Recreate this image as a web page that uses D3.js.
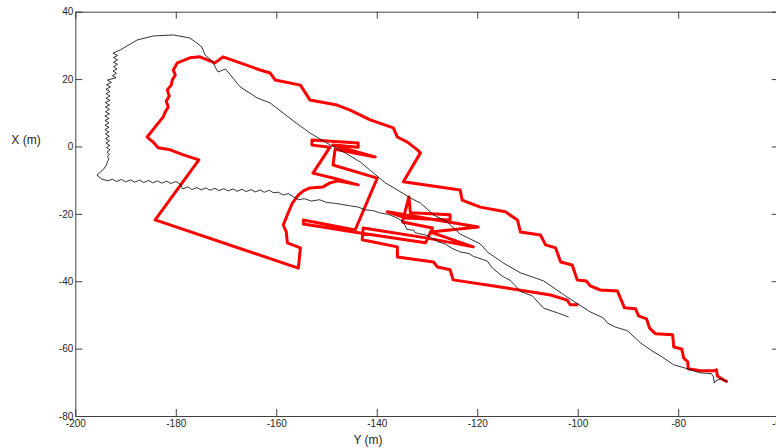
<!DOCTYPE html>
<html>
<head>
<meta charset="utf-8">
<script src="https://cdn.jsdelivr.net/npm/d3@7"></script>
<style>
  body { margin: 0; background: #fff; }
  text { font-family: "Liberation Sans", Arial, sans-serif; }
</style>
</head>
<body>
<script>
var w = 776;
var h = 448;

var xTicks = [-200, -180, -160, -140, -120, -100, -80, -60];
var yTicks = [-80, -60, -40, -20, 0, 20, 40];
var xLabel = "Y (m)";
var yLabel = "X (m)";

// reference track (thin black), [Y, X] in metres
var blackTrack = [
  [-70.2,-69.9],[-71.6,-69.0],[-72.6,-69.6],[-72.8,-70.2],[-73.0,-68.4],[-73.4,-67.4],[-75.6,-67.2],
  [-78.1,-66.0],[-80.9,-64.8],[-83.5,-62.2],[-85.5,-60.4],[-87.5,-58.3],[-90.1,-54.7],[-92.5,-53.6],
  [-94.1,-52.4],[-94.9,-50.9],[-97.5,-49.1],[-102.1,-44.7],[-106.8,-39.9],[-111.4,-37.5],[-114.8,-34.6],
  [-118.0,-31.3],[-119.4,-28.9],[-123.4,-26.0],[-126.0,-22.4],[-128.7,-20.3],[-131.3,-16.8],[-133.3,-15.3],
  [-135.9,-12.9],[-138.3,-10.8],[-143.3,-4.6],[-146.3,-1.9],[-149.9,1.0],[-153.3,4.0],[-156.6,7.6],
  [-161.2,12.9],[-163.8,14.4],[-167.2,17.7],[-170.1,23.0],[-171.6,22.1],[-172.8,25.4],[-174.2,27.2],
  [-174.8,29.5],[-175.8,30.7],[-177.2,32.2],[-180.5,33.1],[-184.5,32.8],[-187.7,31.6],[-191.1,28.6],
  [-192.5,27.7],
  [-191.6,27.0],[-192.4,26.4],[-191.6,25.7],[-192.4,25.0],[-191.6,24.4],[-192.4,23.7],[-191.7,23.0],
  [-192.5,22.4],[-191.8,21.7],[-192.6,21.0],[-191.9,20.4],[-193.6,19.7],[-192.8,19.0],[-193.8,18.3],
  [-193.0,17.7],[-193.9,17.0],[-193.1,16.3],[-193.9,15.7],[-193.1,15.0],[-193.9,14.3],[-193.1,13.7],
  [-194.0,13.0],[-193.2,12.3],[-194.0,11.7],[-193.2,11.0],[-194.0,10.3],[-193.2,9.7],[-194.1,9.0],
  [-193.3,8.3],[-194.1,7.7],[-193.3,7.0],[-194.1,6.3],[-193.3,5.7],[-194.1,5.0],[-193.3,4.3],
  [-194.0,3.7],[-193.2,3.0],[-194.0,2.3],[-193.2,1.7],[-193.9,1.0],[-193.1,0.3],[-193.8,-0.3],
  [-193.1,-1.0],[-193.7,-1.7],[-193.2,-2.3],[-193.6,-3.0],[-193.3,-3.7],[-193.6,-4.5],[-193.8,-5.5],
  [-194.4,-6.8],[-195.7,-8.5],
  [-194.7,-9.7],[-193.5,-10.2],[-192.6,-9.7],[-191.8,-10.4],[-190.8,-9.8],[-190.0,-10.5],[-189.0,-9.9],
  [-188.2,-10.6],[-187.2,-10.0],[-186.4,-10.7],[-185.4,-10.1],[-184.6,-10.8],[-183.6,-10.2],[-182.8,-10.9],
  [-181.8,-10.3],[-181.0,-11.0],[-180.0,-10.4],[-179.2,-11.1],[-178.6,-12.6],[-177.6,-12.0],[-176.8,-12.8],
  [-175.8,-12.2],[-175.0,-12.9],[-174.0,-12.3],[-173.2,-13.0],[-172.2,-12.4],[-171.4,-13.1],[-170.4,-12.5],
  [-169.6,-13.2],[-168.6,-12.6],[-167.8,-13.3],[-166.8,-12.7],[-166.0,-13.4],[-165.0,-12.8],[-164.2,-13.5],
  [-163.2,-12.9],[-162.4,-13.6],[-161.4,-13.0],[-160.6,-13.7],[-159.6,-13.6],[-158.6,-14.4],[-157.6,-14.0],
  [-156.6,-14.9],[-155.6,-15.8],[-154.4,-15.5],[-153.0,-16.2],[-151.4,-15.8],[-150.0,-16.6],[-148.2,-16.9],
  [-147.0,-17.2],[-145.4,-17.6],[-143.6,-18.0],[-142.4,-18.8],[-140.8,-19.0],[-139.4,-19.7],[-137.6,-20.2],
  [-136.0,-21.2],[-134.8,-22.2],[-134.0,-24.6],[-132.6,-24.9],[-132.4,-25.6],[-130.2,-26.3],[-129.0,-27.2],
  [-127.6,-28.4],[-126.4,-28.9],[-125.2,-30.1],[-123.4,-31.3],[-121.6,-31.8],[-120.8,-32.6],[-118.0,-34.0],
  [-117.0,-36.1],[-115.0,-38.5],[-113.4,-39.8],[-111.4,-43.0],[-109.0,-44.4],[-106.8,-48.0],[-104.0,-49.4],
  [-101.8,-50.6]
];

// estimated track (thick red), [Y, X] in metres
var redTrack = [
  [-70.2,-69.9],[-71.6,-68.7],[-72.2,-68.1],[-72.4,-66.3],[-73.0,-66.6],[-75.6,-66.6],[-78.0,-66.0],
  [-78.1,-63.9],[-78.9,-62.8],[-79.3,-60.1],[-80.9,-59.5],[-81.1,-55.9],[-84.5,-55.6],[-85.7,-53.9],
  [-86.3,-51.2],[-87.9,-50.3],[-88.5,-48.2],[-90.7,-47.9],[-91.5,-45.0],[-92.1,-42.9],[-95.5,-42.6],
  [-97.5,-41.4],[-98.3,-39.9],[-100.1,-39.6],[-101.1,-35.2],[-103.4,-34.3],[-104.4,-30.1],[-106.4,-29.2],
  [-107.4,-26.3],[-111.4,-25.4],[-112.0,-21.8],[-114.4,-19.4],[-119.4,-18.0],[-123.0,-15.9],[-123.4,-12.9],
  [-134.7,-10.5],[-131.3,-1.9],[-131.9,-1.0],[-133.9,1.3],[-135.9,2.8],[-136.7,5.5],[-141.3,7.9],
  [-145.3,10.8],[-147.9,12.3],[-153.3,13.8],[-154.2,15.9],[-155.2,18.2],[-160.2,19.7],[-161.2,21.8],
  [-163.2,22.7],[-167.2,24.8],[-170.6,26.6],[-172.2,24.8],[-175.2,26.6],[-177.2,26.3],[-179.7,24.8],
  [-180.5,22.7],[-180.1,21.2],[-180.7,19.7],[-180.9,18.2],[-181.7,16.8],[-181.3,15.0],[-181.9,13.4],
  [-181.5,11.7],[-182.1,10.2],[-182.5,8.8],[-185.7,2.8],[-184.5,1.3],
  [-183.5,-0.4],[-181.1,-1.0],[-178.5,-2.5],[-175.4,-4.0],[-184.1,-21.8],[-155.6,-36.1],[-155.2,-30.1],
  [-157.8,-28.6],[-158.0,-25.4],[-158.6,-23.3],[-157.8,-20.3],[-156.8,-16.8],[-155.6,-14.4],[-154.6,-13.2],
  [-153.3,-12.3],[-150.7,-12.0],[-149.3,-10.8],[-147.7,-10.2],[-143.7,-11.4],[-147.3,-9.9],[-152.7,-7.9],
  [-149.3,-0.2],[-152.9,0.4],[-152.9,1.9],[-143.7,1.0],[-143.7,-0.2],[-148.7,0.4],[-140.3,-3.1],
  [-148.3,-0.8],[-148.7,-5.5],[-139.9,-9.4],[-144.3,-24.8],[-154.6,-21.8],[-154.6,-23.0],[-143.3,-25.7],
  [-130.3,-28.6],[-128.9,-24.2],[-134.9,-22.4],[-133.6,-15.0],[-133.3,-19.7],[-125.4,-20.3],[-125.4,-21.8],
  [-134.3,-21.2],[-137.9,-19.4],[-119.8,-23.9],[-129.3,-25.4],[-120.8,-29.8],[-129.9,-27.2],[-142.7,-24.2],
  [-142.9,-27.7],[-135.9,-29.8],[-135.9,-32.8],[-128.7,-34.3],[-127.9,-35.8],[-125.4,-36.6],[-124.8,-39.6],
  [-115.4,-41.7],[-105.4,-44.1],[-102.1,-45.6],[-101.5,-47.0],[-99.9,-47.0]
];

var margin = { top: 11.7, bottom: 32, left: 75.3, right: -2.7 };

var x = d3.scaleLinear()
  .domain([-200, -60])
  .range([margin.left, w - margin.right]);

var y = d3.scaleLinear()
  .domain([-80, 40])
  .range([h - margin.bottom, margin.top]);

// plain hyphen minus, as in the original figure
var fmt = function(d){ return String(d); };

var svg = d3.select("body")
  .append("svg")
  .attr("width", w)
  .attr("height", h);

// axes, ticks pointing inwards like matlab
svg.append("g")
  .attr("transform", "translate(0," + y(-80) + ")")
  .call(d3.axisBottom(x).tickValues(xTicks).tickFormat(fmt).tickSize(-7).tickSizeOuter(0).tickPadding(4));

svg.append("g")
  .attr("transform", "translate(0," + y(40) + ")")
  .call(d3.axisTop(x).tickValues(xTicks).tickSize(-7).tickSizeOuter(0).tickFormat(""));

svg.append("g")
  .attr("transform", "translate(" + x(-200) + ",0)")
  .call(d3.axisLeft(y).tickValues(yTicks).tickFormat(fmt).tickSize(-7).tickSizeOuter(0).tickPadding(2));

svg.append("g")
  .attr("transform", "translate(" + x(-60) + ",0)")
  .call(d3.axisRight(y).tickValues(yTicks).tickSize(-7).tickSizeOuter(0).tickFormat(""));

svg.selectAll(".domain, .tick line").attr("stroke", "#404040");
svg.selectAll(".tick text")
  .attr("fill", "#262626")
  .style("font-size", "10px")
  .style("font-family", "Liberation Sans, Arial, sans-serif");

var line = d3.line()
  .x(function(d){ return x(d[0]); })
  .y(function(d){ return y(d[1]); });

svg.append("path")
  .datum(redTrack)
  .attr("d", line)
  .attr("fill", "none")
  .attr("stroke", "#ff0000")
  .attr("stroke-width", 3)
  .attr("stroke-linejoin", "round");

svg.append("path")
  .datum(blackTrack)
  .attr("d", line)
  .attr("fill", "none")
  .attr("stroke", "#000")
  .attr("stroke-width", 0.8);

svg.append("text")
  .attr("x", 368)
  .attr("y", 444)
  .attr("text-anchor", "middle")
  .attr("fill", "#262626")
  .style("font-size", "12px")
  .text(xLabel);

svg.append("text")
  .attr("x", 26)
  .attr("y", 144)
  .attr("text-anchor", "middle")
  .attr("fill", "#262626")
  .style("font-size", "12px")
  .text(yLabel);
</script>
</body>
</html>
